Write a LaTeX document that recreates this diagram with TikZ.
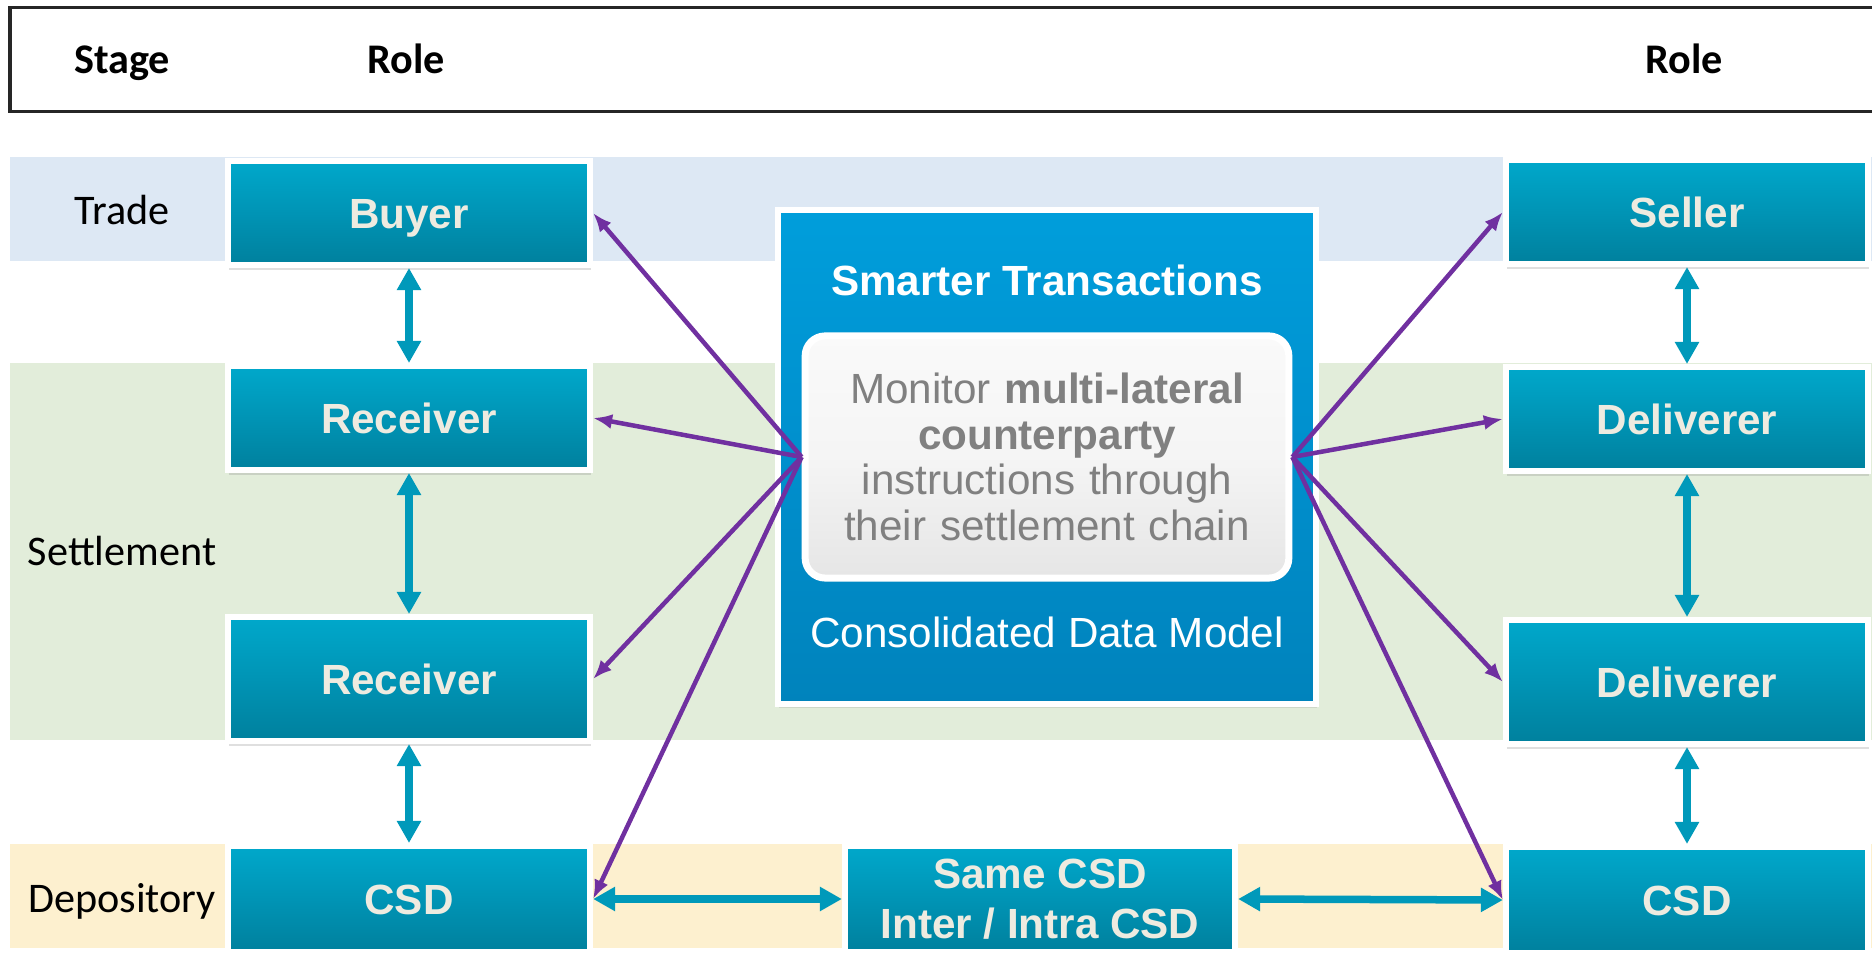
\documentclass[tikz,border=0pt]{standalone}
\usepackage{fontspec}
\setmainfont{Liberation Sans}
\newfontfamily\calibri{Carlito}
\usetikzlibrary{arrows.meta}
\usetikzlibrary{
    shadows % Soft shadow below the boxes.
}

\definecolor{tealTop}{HTML}{00A8CB}
\definecolor{tealMid}{HTML}{0094B5}
\definecolor{tealBot}{HTML}{00809D}
\definecolor{arrowTeal}{HTML}{0099BA}
\definecolor{cream}{HTML}{EEEBE0}
\definecolor{modelTop}{HTML}{009EDB}
\definecolor{modelMid}{HTML}{008FCD}
\definecolor{modelBot}{HTML}{0083BC}
\definecolor{purpleLink}{HTML}{7030A0}
\definecolor{tradeBand}{HTML}{DDE8F4}
\definecolor{settleBand}{HTML}{E2EDDA}
\definecolor{depoBand}{HTML}{FDF0CF}

\begin{document}
\begin{tikzpicture}[%
        >=Latex,
        x = 0.01cm,
        y = -0.01cm,
        rolebox/.style = {%
            draw = white,
            line width = 0.06cm,
            top color = tealTop,
            bottom color = tealBot,
            middle color = tealMid,
            shading = axis,
            minimum width = 3.62cm,
            minimum height = 1.04cm,
            inner sep = 0pt,
            align = center,
            text = cream,
            font = \fontsize{12}{14.2}\selectfont\bfseries,
            drop shadow = {opacity = 0.25, shadow xshift = 0.01cm, shadow yshift = -0.05cm}
        },
        onerole/.style = {rolebox, text height = 0.31cm, text depth = 0cm},
        stagelabel/.style = {anchor = base, font = \calibri\fontsize{12}{14}\selectfont},
        headlabel/.style = {anchor = base, font = \calibri\fontsize{12}{14}\selectfont\bfseries},
        flow/.style = {<->, >={Triangle[width = 0.23cm, length = 0.22cm]},
            draw = arrowTeal, line width = 0.075cm},
        link/.style = {->, >={Latex[width = 0.15cm, length = 0.19cm]},
            draw = purpleLink, line width = 0.045cm}
    ]

        \useasboundingbox (0, 0) rectangle (1872, 955);

        % Coloured bands for the three stages.
        \fill[tradeBand] (10, 157) rectangle (1872, 261);
        \fill[settleBand] (10, 363) rectangle (1872, 740);
        \fill[depoBand] (10, 844) rectangle (1872, 948);

        % Header strip with the column titles.
        \draw[line width = 0.03cm, draw = black!85] (10, 8) rectangle (1890, 112);
        \node[headlabel] (stagehd) at (122, 74) {Stage};
        \node[headlabel] (rolehdL) at (406, 74) {Role};
        \node[headlabel] (rolehdR) at (1684, 74) {Role};

        % Stage names on the left.
        \node[stagelabel] (trade) at (122, 225) {Trade};
        \node[stagelabel] (settle) at (122, 566) {Settlement};
        \node[stagelabel] (depos) at (122, 912) {Depository};

        % Roles on the buying side.
        \node[onerole] (buyer) at (409, 213) {Buyer};
        \node[onerole] (recvA) at (409, 418) {Receiver};
        \node[onerole, minimum height = 1.24cm] (recvB) at (409, 679) {Receiver};
        \node[onerole, minimum height = 1.06cm] (csdL) at (409, 899) {CSD};

        % Roles on the selling side.
        \node[onerole] (seller) at (1687, 212) {Seller};
        \node[onerole] (delivA) at (1687, 419) {Deliverer};
        \node[onerole, minimum height = 1.24cm] (delivB) at (1687, 682) {Deliverer};
        \node[onerole, minimum height = 1.06cm] (csdR) at (1687, 900) {CSD};

        % Depository in the middle.
        \node[rolebox, minimum width = 3.90cm, minimum height = 1.06cm] (samecsd)
            at (1040, 899) {Same CSD\\Inter / Intra CSD};

        % Central data model box.
        \node[%
            draw = white,
            line width = 0.06cm,
            top color = modelTop,
            bottom color = modelBot,
            middle color = modelMid,
            shading = axis,
            minimum width = 5.38cm,
            minimum height = 4.94cm,
            drop shadow = {opacity = 0.2, shadow xshift = 0.01cm, shadow yshift = -0.04cm}
        ] (model) at (1047, 457) {};
        \node[text = white, font = \fontsize{12}{14}\selectfont\bfseries] (title)
            at (1047, 280) {Smarter Transactions};
        \node[text = white, font = \fontsize{12}{14}\selectfont] (datamodel)
            at (1047, 632) {Consolidated Data Model};

        % Rounded box with the monitoring text.
        \node[%
            draw = white,
            line width = 0.07cm,
            rounded corners = 0.2cm,
            top color = black!2,
            bottom color = black!10,
            middle color = black!4,
            shading = axis,
            text = black!50,
            minimum width = 4.74cm,
            minimum height = 2.42cm,
            text width = 4.6cm,
            align = center,
            font = \fontsize{12}{13}\selectfont,
            drop shadow = {opacity = 0.2, shadow xshift = 0cm, shadow yshift = -0.03cm}
        ] (monitor) at (1047, 457)
            {Monitor \textbf{multi-lateral}\\\textbf{counterparty}\\instructions through\\their settlement chain};

        % Chains down each side.
        \draw[flow] (buyer) to (recvA);
        \draw[flow] (recvA) to (recvB);
        \draw[flow] (recvB) to (csdL);
        \draw[flow] (seller) to (delivA);
        \draw[flow] (delivA) to (delivB);
        \draw[flow] (delivB) to (csdR);
        \draw[flow] (csdL.east) to (samecsd.west);
        \draw[flow] (samecsd.east) to (csdR.west);

        % Links from the monitor out to every role.
        \draw[link] (monitor.west) to (buyer.east);
        \draw[link] (monitor.west) to (recvA.east);
        \draw[link] (monitor.west) to (recvB.east);
        \draw[link] (monitor.west) to (csdL.east);
        \draw[link] (monitor.east) to (seller.west);
        \draw[link] (monitor.east) to (delivA.west);
        \draw[link] (monitor.east) to (delivB.west);
        \draw[link] (monitor.east) to (csdR.west);
    \end{tikzpicture}
\end{document}
